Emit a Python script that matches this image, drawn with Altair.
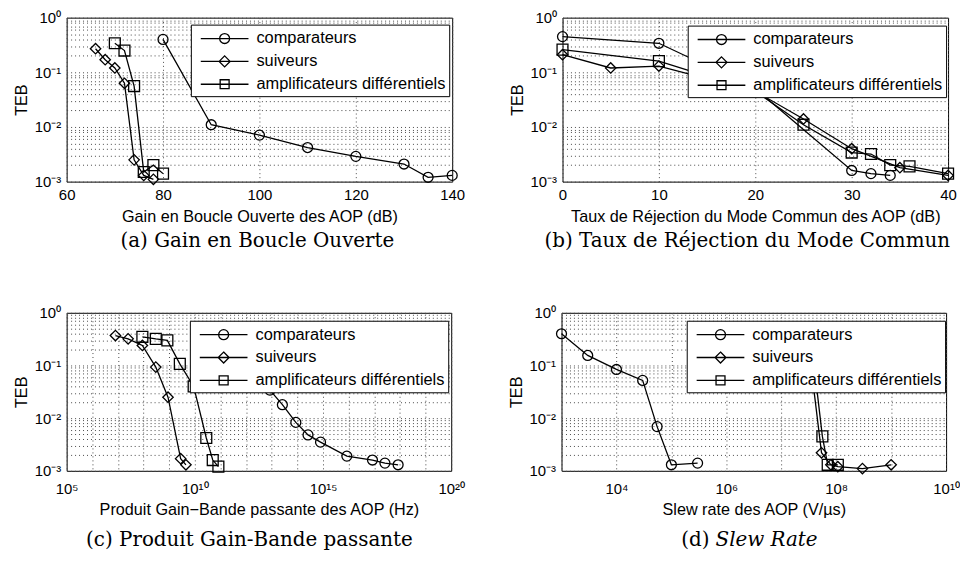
import altair as alt
import pandas as pd

SERIES = ["comparateurs", "suiveurs", "amplificateurs différentiels"]

# ---------- (a) Gain en Boucle Ouverte ----------
A_COMP_X = [80, 90, 100, 110, 120, 130, 135, 140]
A_COMP_Y = [0.40, 0.011, 0.0071, 0.0042, 0.0029, 0.0021, 0.0012, 0.0013]
A_SUIV_X = [66, 68, 70, 72, 74, 76, 78]
A_SUIV_Y = [0.27, 0.17, 0.12, 0.063, 0.0025, 0.0013, 0.0011]
A_AMPL_X = [70, 72, 74, 76, 78, 80]
A_AMPL_Y = [0.34, 0.25, 0.056, 0.0015, 0.0020, 0.0014]

# ---------- (b) Taux de Réjection du Mode Commun ----------
B_COMP_X = [0, 10, 20, 30, 32, 34]
B_COMP_Y = [0.45, 0.34, 0.05, 0.0016, 0.0014, 0.0013]
B_SUIV_X = [0, 5, 10, 20, 25, 30, 35, 40]
B_SUIV_Y = [0.21, 0.12, 0.13, 0.045, 0.014, 0.004, 0.0018, 0.0013]
B_AMPL_X = [0, 10, 20, 25, 30, 32, 34, 36, 40]
B_AMPL_Y = [0.26, 0.16, 0.045, 0.011, 0.0034, 0.0032, 0.0020, 0.0019, 0.0014]

# ---------- (c) Produit Gain-Bande passante ----------
C_COMP_X = [1e11, 1e12, 8.5e12, 2.6e13, 8.7e13, 2.6e14, 8e14, 8.5e15, 8.5e16, 2.6e17, 8.5e17]
C_COMP_Y = [0.30, 0.12, 0.034, 0.018, 0.0083, 0.0048, 0.0035, 0.0019, 0.0016, 0.0014, 0.0013]
C_SUIV_X = [8e6, 2.5e7, 9e7, 3e8, 9e8, 2.8e9, 4.5e9]
C_SUIV_Y = [0.37, 0.32, 0.24, 0.093, 0.025, 0.0017, 0.0013]
C_AMPL_X = [9e7, 3e8, 8.5e8, 2.6e9, 9e9, 2.8e10, 5e10, 8.3e10]
C_AMPL_Y = [0.35, 0.32, 0.30, 0.107, 0.040, 0.0042, 0.0016, 0.0012]

# ---------- (d) Slew Rate ----------
D_COMP_X = [1e3, 3e3, 1e4, 3e4, 5.5e4, 1e5, 3e5]
D_COMP_Y = [0.40, 0.155, 0.084, 0.052, 0.0069, 0.0013, 0.0014]
D_SUIV_X = [3.2e7, 5.4e7, 8e7, 1.07e8, 3e8, 1e9]
D_SUIV_Y = [0.20, 0.0022, 0.0013, 0.0012, 0.0011, 0.0013]
D_AMPL_X = [3.5e7, 5.6e7, 7e7, 1.07e8]
D_AMPL_Y = [0.30, 0.0045, 0.0013, 0.0013]

# ---------- ticks ----------
Y_TICKS = [1, 0.1, 0.01, 0.001]
Y_LABELS = ["10⁰", "10⁻¹", "10⁻²", "10⁻³"]
A_TICKS = [60, 80, 100, 120, 140]
A_LABELS = ["60", "80", "100", "120", "140"]
B_TICKS = [0, 10, 20, 30, 40]
B_LABELS = ["0", "10", "20", "30", "40"]
C_TICKS = [1e5, 1e10, 1e15, 1e20]
C_LABELS = ["10⁵", "10¹⁰", "10¹⁵", "10²⁰"]
D_TICKS = [1e4, 1e6, 1e8, 1e10]
D_LABELS = ["10⁴", "10⁶", "10⁸", "10¹⁰"]

Y_GRID = [k * 10.0 ** e for e in (-3, -2, -1) for k in range(1, 10)] + [1.0]
C_GRID = [10.0 ** e for e in range(5, 21)]
D_GRID = [10.0 ** e for e in range(3, 11)]

SANS = "Liberation Sans"
SERIF = "DejaVu Serif"
GRID_COLOR = "#4a4a4a"

MARKERS = ["circle", "diamond", "square"]
MARKER_SIZES = [100, 120, 85]
LEGEND_PATHS = [
    "M-2.4,0H2.4M0.5,0A0.5,0.5,0,1,1,-0.5,0A0.5,0.5,0,1,1,0.5,0Z",
    "M-2.4,0H2.4M0,-0.55L0.55,0L0,0.55L-0.55,0Z",
    "M-2.4,0H2.4M-0.45,-0.45H0.45V0.45H-0.45Z",
]


def label_expr(vals, labels):
    expr = "''"
    for v, l in reversed(list(zip(vals, labels))):
        if v == 0:
            test = "abs(datum.value) < 1e-9"
        else:
            test = f"abs(datum.value / {v!r} - 1) < 1e-6"
        expr = f"({test} ? '{l}' : {expr})"
    return expr


def make_df(parts):
    rows = []
    for name, xs, ys in parts:
        for x, y in zip(xs, ys):
            rows.append({"series": name, "x": x, "y": y})
    return pd.DataFrame(rows)


def panel(df, xscale, grid_vals, tick_vals, tick_labels, xtitle, xlabpad, xtitlepad,
          w, h, leg_x, leg_y, captions):
    x_axis = alt.Axis(
        title=xtitle, values=grid_vals, labelExpr=label_expr(tick_vals, tick_labels),
        grid=True, gridDash=[1, 3], gridColor=GRID_COLOR, gridWidth=1,
        ticks=False, domain=False, labelFont=SANS, labelFontSize=15, labelColor="black",
        labelPadding=xlabpad, labelFlush=False, labelOverlap=False,
        titleFont=SANS, titleFontSize=16.3, titleFontWeight="normal", titleColor="black",
        titlePadding=xtitlepad,
    )
    y_axis = alt.Axis(
        title="TEB", values=Y_GRID, labelExpr=label_expr(Y_TICKS, Y_LABELS),
        grid=True, gridDash=[1, 3], gridColor=GRID_COLOR, gridWidth=1,
        ticks=False, domain=False, labelFont=SANS, labelFontSize=15, labelColor="black",
        labelPadding=6, labelFlush=False, labelOverlap=False,
        titleFont=SANS, titleFontSize=16.3, titleFontWeight="normal", titleColor="black",
        titlePadding=4.5,
    )
    yscale = alt.Scale(type="log", domain=[0.001, 1], nice=False)
    X = alt.X("x:Q", scale=xscale, axis=x_axis)
    Y = alt.Y("y:Q", scale=yscale, axis=y_axis)
    base = alt.Chart(df)
    lines = base.mark_line(color="black", strokeWidth=1.3).encode(x=X, y=Y, detail="series:N")
    pts = base.mark_point(filled=False, color="black", strokeWidth=1.3, opacity=1).encode(
        x=X, y=Y,
        shape=alt.Shape("series:N", scale=alt.Scale(domain=SERIES, range=MARKERS), legend=None),
        size=alt.Size("series:N", scale=alt.Scale(domain=SERIES, range=MARKER_SIZES), legend=None),
    )
    leg = base.mark_point(color="black", opacity=0).encode(
        x=X, y=Y,
        shape=alt.Shape(
            "series:N", scale=alt.Scale(domain=SERIES, range=LEGEND_PATHS),
            legend=alt.Legend(
                title=None, orient="none", legendX=leg_x, legendY=leg_y,
                symbolSize=400, symbolStrokeWidth=1.3, symbolStrokeColor="black",
                symbolFillColor="white", symbolOpacity=1, symbolOffset=20,
                labelOffset=21, labelFont=SANS, labelFontSize=16.5, labelColor="black",
                labelLimit=400, padding=3, rowPadding=3, strokeColor="black",
                fillColor="white", cornerRadius=0,
            ),
        ),
    )
    layers = [lines, pts, leg]
    for text, xpos, ypos, align, style in captions:
        cdf = pd.DataFrame({"t": [text]})
        layers.append(
            alt.Chart(cdf).mark_text(
                font=SERIF, fontSize=20, fontStyle=style, align=align,
                baseline="alphabetic", color="black",
            ).encode(text="t:N", x=alt.value(xpos), y=alt.value(ypos))
        )
    return alt.layer(*layers).resolve_scale(shape="independent").properties(width=w, height=h)


W1, H1 = 388, 165
W2, H2 = 387, 159

pa = panel(
    make_df([(SERIES[0], A_COMP_X, A_COMP_Y), (SERIES[1], A_SUIV_X, A_SUIV_Y), (SERIES[2], A_AMPL_X, A_AMPL_Y)]),
    alt.Scale(domain=[60, 140], nice=False, zero=False), A_TICKS, A_TICKS, A_LABELS,
    "Gain en Boucle Ouverte des AOP (dB)", 6, 6, W1, H1, 125, 7,
    [("(a) Gain en Boucle Ouverte", 192, 231, "center", "normal")],
)
pb = panel(
    make_df([(SERIES[0], B_COMP_X, B_COMP_Y), (SERIES[1], B_SUIV_X, B_SUIV_Y), (SERIES[2], B_AMPL_X, B_AMPL_Y)]),
    alt.Scale(domain=[0, 40], nice=False, zero=False), B_TICKS, B_TICKS, B_LABELS,
    "Taux de Réjection du Mode Commun des AOP (dB)", 6, 6, W1, H1, 126, 8,
    [("(b) Taux de Réjection du Mode Commun", 186, 231, "center", "normal")],
)
pc = panel(
    make_df([(SERIES[0], C_COMP_X, C_COMP_Y), (SERIES[1], C_SUIV_X, C_SUIV_Y), (SERIES[2], C_AMPL_X, C_AMPL_Y)]),
    alt.Scale(type="log", domain=[1e5, 1e20], nice=False), C_GRID, C_TICKS, C_LABELS,
    "Produit Gain\u2212Bande passante des AOP (Hz)", 11, 5, W2, H2, 124, 8,
    [("(c) Produit Gain-Bande passante", 184, 235, "center", "normal")],
)
pd_ = panel(
    make_df([(SERIES[0], D_COMP_X, D_COMP_Y), (SERIES[1], D_SUIV_X, D_SUIV_Y), (SERIES[2], D_AMPL_X, D_AMPL_Y)]),
    alt.Scale(type="log", domain=[1e3, 1e10], nice=False), D_GRID, D_TICKS, D_LABELS,
    "Slew rate des AOP (V/µs)", 11, 5, W2, H2, 126, 8,
    [("(d)", 149, 235, "right", "normal"), ("Slew Rate", 155, 235, "left", "italic")],
)

RES = dict(x="independent", y="independent", shape="independent", size="independent")

row1 = alt.hconcat(pa, pb, spacing=43).resolve_scale(**RES).resolve_legend(shape="independent", size="independent")
row2 = alt.hconcat(pc, pd_, spacing=43).resolve_scale(**RES).resolve_legend(shape="independent", size="independent")

chart = (
    alt.vconcat(row1, row2, spacing=53)
    .resolve_scale(**RES)
    .resolve_legend(shape="independent", size="independent")
    .properties(padding={"left": 5, "top": 0, "right": 0, "bottom": 0}, background="white")
    .configure_view(stroke="black", strokeWidth=1)
)

chart.save("out.html", embed_options={"renderer": "svg", "actions": False})
